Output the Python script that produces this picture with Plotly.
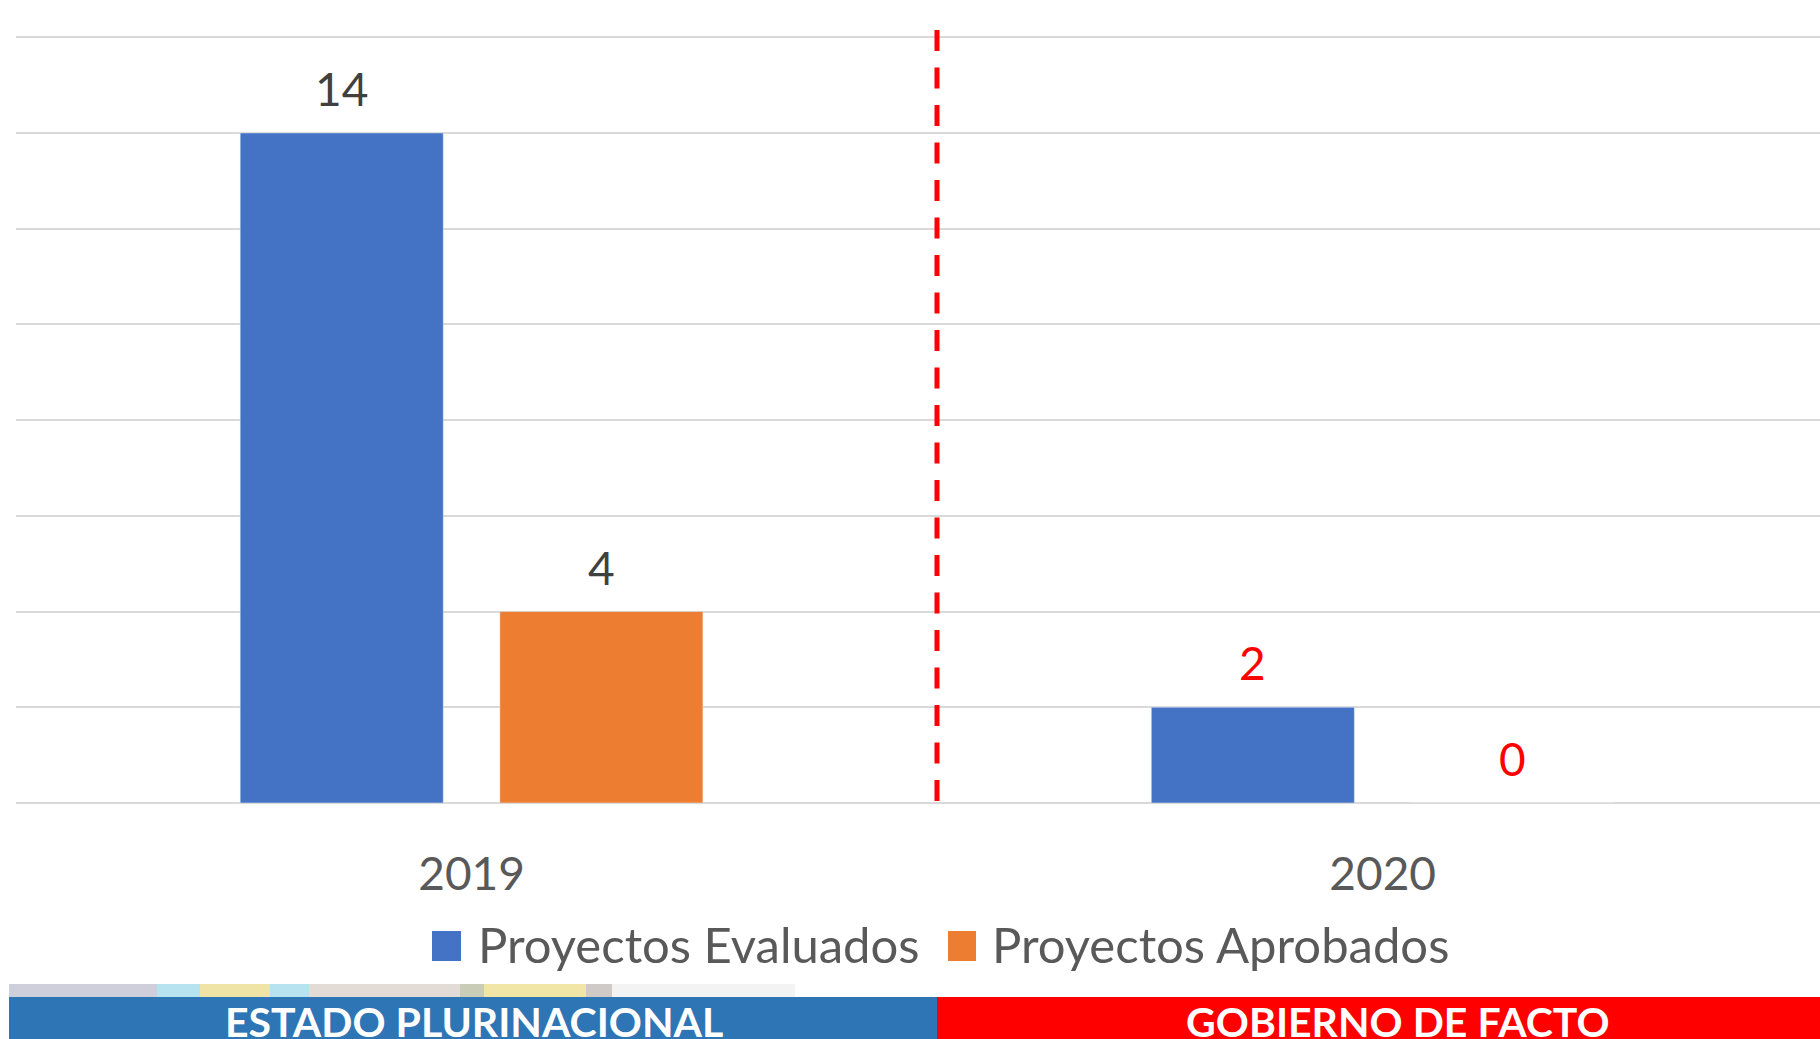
import plotly.graph_objects as go

# ---- data ----
years = ["2019", "2020"]
series_names = ["Proyectos Evaluados", "Proyectos Aprobados"]
evaluados = [14, 2]
aprobados = [4, 0]
banner_labels = ["ESTADO PLURINACIONAL", "GOBIERNO DE FACTO"]

# ---- styles ----
W, H = 1820, 1039
ML, MR, MT, MB = 16, 0, 14, 236
PW, PH = W - ML - MR, H - MT - MB
BLUE, ORANGE = "#4472C4", "#ED7D31"
label_colors = ["#404040", "#FF0000"]
FONT = "Lato, 'Open Sans', sans-serif"
BARGAP = 0.43
XRANGE = [-0.5, 1.48]
PX_PER_CAT = PW / (XRANGE[1] - XRANGE[0])
SLOT_PX = (1 - BARGAP) / 2 * PX_PER_CAT


def xp(px):  # reference pixel -> paper
    return (px - ML) / PW


def yp(py):
    return (H - MB - py) / PH


fig = go.Figure()
series_vals = [evaluados, aprobados]
series_cols = [BLUE, ORANGE]
for name, vals, col in zip(series_names, series_vals, series_cols):
    fig.add_trace(go.Bar(x=years, y=vals, name=name, marker_color=col,
                         hoverinfo="x+y+name"))

shapes = []
annotations = []

# value labels above the bars (category axis: x given as category index)
for i, vals in enumerate(series_vals):
    shift = (i - 0.5) * SLOT_PX
    for j, v in enumerate(vals):
        annotations.append(dict(x=j, y=v, xref="x", yref="y", text=str(v),
                                showarrow=False, xshift=shift, yshift=15,
                                xanchor="center", yanchor="bottom",
                                font=dict(family=FONT, size=46,
                                          color=label_colors[j])))

# dashed separator
shapes.append(dict(type="line", xref="paper", yref="paper",
                   x0=xp(937), x1=xp(937), y0=yp(801), y1=yp(14),
                   line=dict(color="#FF0000", width=5, dash="21px,16.5px")))

# custom legend
leg = [(432, 461, 476, BLUE), (948, 976, 990, ORANGE)]
for (sx0, sx1, tx, col), name in zip(leg, series_names):
    shapes.append(dict(type="rect", xref="paper", yref="paper",
                       x0=xp(sx0), x1=xp(sx1), y0=yp(961), y1=yp(931),
                       fillcolor=col, line=dict(width=0)))
    annotations.append(dict(text=name, xref="paper", yref="paper",
                            x=xp(tx), y=yp(944), xanchor="left", yanchor="middle",
                            showarrow=False,
                            font=dict(family=FONT, size=49, color="#595959")))

# faded picture strip
strip = [(9, 157, "#cfcfdc"), (157, 309, "#b7e2f0"), (200, 270, "#efe3a6"),
         (309, 460, "#e3dcd6"), (460, 484, "#c9cdb8"), (484, 586, "#f1e6a6"),
         (586, 612, "#cfcac8"), (612, 795, "#f3f3f3")]
for x0, x1, c in strip:
    shapes.append(dict(type="rect", xref="paper", yref="paper",
                       x0=xp(x0), x1=xp(x1), y0=yp(997), y1=yp(984),
                       fillcolor=c, line=dict(width=0), layer="below"))

# banners
shapes.append(dict(type="rect", xref="paper", yref="paper",
                   x0=xp(9), x1=xp(937), y0=yp(1050), y1=yp(997),
                   fillcolor="#2E75B6", line=dict(width=0)))
shapes.append(dict(type="rect", xref="paper", yref="paper",
                   x0=xp(937), x1=xp(1830), y0=yp(1050), y1=yp(997),
                   fillcolor="#FF0000", line=dict(width=0)))
for label, cx in zip(banner_labels, [474, 1398]):
    annotations.append(dict(text="<b>%s</b>" % label, xref="paper", yref="paper",
                            x=xp(cx), y=yp(995), xanchor="center", yanchor="top",
                            showarrow=False,
                            font=dict(family=FONT, size=41, color="#FFFFFF")))

fig.update_layout(
    width=W, height=H,
    margin=dict(l=ML, r=MR, t=MT, b=MB, pad=0),
    paper_bgcolor="white", plot_bgcolor="white",
    barmode="group", bargap=BARGAP, bargroupgap=0.218,
    showlegend=False,
    shapes=shapes, annotations=annotations,
    xaxis=dict(type="category", range=XRANGE, showgrid=False,
               showline=False, ticks="", ticklabelstandoff=40,
               tickfont=dict(family=FONT, size=46, color="#595959")),
    yaxis=dict(range=[0, PH / 47.86], dtick=2, tick0=0, showticklabels=False,
               showgrid=True, gridcolor="#d9d9d9", gridwidth=1.5,
               zeroline=True, zerolinecolor="#d9d9d9", zerolinewidth=1.5,
               showline=False, ticks=""),
)

fig.write_html(
    "out.html",
    config={"displayModeBar": False},
    post_script="document.body.style.margin='0';"
                "document.body.style.overflow='hidden';",
)
